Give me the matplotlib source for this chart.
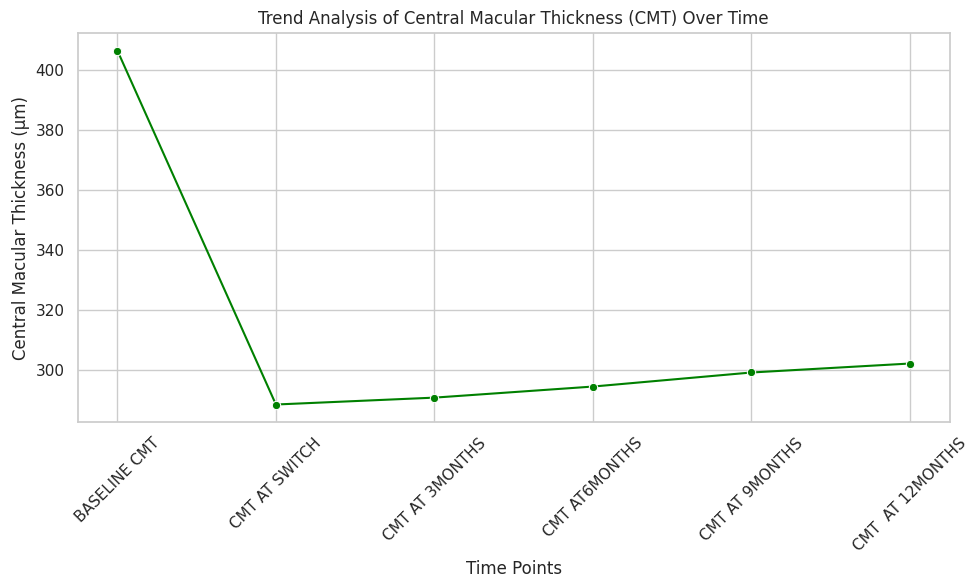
import matplotlib
matplotlib.use("Agg")
import matplotlib.pyplot as plt
import seaborn as sns

time_points = ["BASELINE CMT", "CMT AT SWITCH", "CMT AT 3MONTHS",
               "CMT AT6MONTHS", "CMT AT 9MONTHS", "CMT  AT 12MONTHS"]
cmt_values = [406.6, 288.3, 290.6, 294.3, 299.0, 302.0]

sns.set_theme(style="whitegrid")
fig, ax = plt.subplots(figsize=(9.72, 5.76), dpi=100)
sns.lineplot(x=time_points, y=cmt_values, marker="o", color="green", ax=ax, sort=False)

ax.set_title("Trend Analysis of Central Macular Thickness (CMT) Over Time")
ax.set_xlabel("Time Points")
ax.set_ylabel("Central Macular Thickness (µm)")
plt.xticks(rotation=45)

plt.subplots_adjust(left=0.08, right=0.977, top=0.943, bottom=0.267)
fig.savefig("out.png")
